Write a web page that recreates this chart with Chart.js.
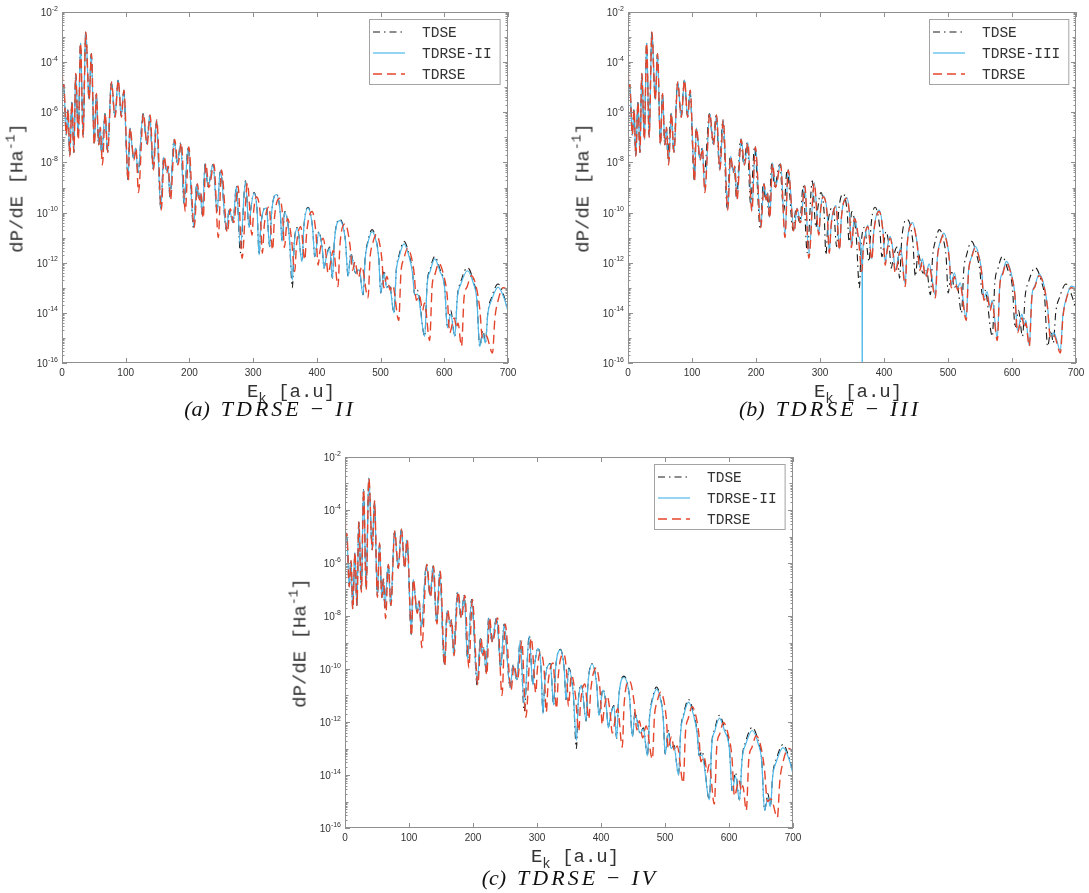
<!DOCTYPE html>
<html><head><meta charset="utf-8">
<script src="https://cdn.jsdelivr.net/npm/chart.js@4.4.0/dist/chart.umd.min.js"></script>
<style>
html,body{margin:0;padding:0;background:#fff;}
body{width:1089px;height:893px;position:relative;overflow:hidden;}
.panel{position:absolute;}
.panel canvas{display:block;}
.ylab,.xlab{position:absolute;font-family:"Liberation Mono","DejaVu Sans Mono",monospace;font-size:19px;color:#333;white-space:nowrap;line-height:1;}
.ylab{transform:translate(-50%,-50%) rotate(-90deg);}
.xlab{transform:translate(-50%,-50%);}
.ylab sup{font-size:13px;vertical-align:8px;line-height:0;}
.xlab sub{font-size:14px;vertical-align:-6px;line-height:0;}
.cap{position:absolute;transform:translate(-50%,-50%);font-family:"Liberation Serif","DejaVu Serif",serif;font-style:italic;font-size:22px;color:#111;white-space:nowrap;line-height:1;}
.cap .m{letter-spacing:3px;}
.cap .op{font-style:normal;padding:0 12px 0 9px;}
.cap .t{padding-right:11px;}
</style></head>
<body>
<div id="pa" class="panel"><canvas id="ca" width="530" height="400"></canvas></div>
<div id="pb" class="panel"><canvas id="cb" width="529" height="400"></canvas></div>
<div id="pc" class="panel"><canvas id="cc" width="540" height="453"></canvas></div>
<script>
// ---------- tick labels ----------
const xTickValues = [0, 100, 200, 300, 400, 500, 600, 700];
const xTickLabels = ['0', '100', '200', '300', '400', '500', '600', '700'];
const yTickExps = [-2, -4, -6, -8, -10, -12, -14, -16];

// ---------- series: [E (a.u.), log10(dP/dE)] ----------
const tdse = [[0,-5.3],[2.7,-4.88],[6.5,-6.9],[9.2,-5.9],[12,-7.7],[15.5,-5.6],[18.6,-7.6],[21.5,-4.45],[25.5,-7.0],[29,-3.23],[33,-6.9],[37.2,-2.8],[42.5,-5.5],[46,-3.66],[50.6,-7.25],[53.8,-5.25],[57.5,-7.3],[60,-6.6],[62,-7.7],[67.5,-6.05],[71.5,-7.6],[77.4,-4.79],[83,-6.18],[88,-4.72],[93,-6.15],[96.8,-5.12],[103.6,-8.7],[106.3,-6.62],[112.5,-7.84],[115.7,-7.44],[119.3,-8.43],[127.2,-6.05],[133,-7.24],[137.7,-6.11],[142.9,-8.24],[148.1,-6.31],[155,-9.83],[159.6,-7.77],[164,-8.3],[166,-8.15],[169.5,-9.4],[175.8,-7.08],[181,-8.04],[186.3,-7.22],[191.5,-9.63],[197.8,-7.38],[206.7,-10.65],[211.4,-8.85],[214.6,-9.43],[216.6,-9.2],[220.3,-10.1],[224.5,-8.05],[229.2,-8.97],[237,-8.07],[243.3,-9.95],[248.6,-8.3],[258,-10.7],[262.5,-9.85],[268.4,-10.4],[273.7,-8.94],[280,-11.6],[287.9,-8.73],[293.6,-10.6],[296.2,-9.9],[301.4,-9.2],[306.3,-9.95],[309.3,-11.69],[312.2,-10.5],[320.8,-9.79],[326,-11.36],[329,-10.0],[336.5,-9.26],[342.5,-10.0],[345.4,-11.16],[349.6,-9.96],[356.5,-10.9],[361.6,-13.0],[364.3,-11.3],[369.4,-10.59],[376.8,-11.96],[379.5,-10.6],[386.1,-9.79],[393.3,-10.6],[396.7,-11.76],[403,-10.76],[408.5,-11.45],[411.3,-12.22],[414.5,-11.8],[420.2,-11.38],[424.4,-12.62],[427.6,-11.1],[435.9,-10.27],[444.8,-11.1],[449,-12.55],[453.2,-11.62],[461,-12.42],[466.2,-12.22],[472.5,-13.28],[476,-11.75],[480,-11.15],[486.6,-10.68],[493.5,-11.15],[497.3,-11.85],[500.2,-13.21],[505.4,-12.3],[509.5,-13.0],[514,-12.88],[521.1,-14.0],[524.6,-12.3],[529,-11.7],[536.8,-11.15],[545,-11.7],[550,-12.35],[553.6,-13.28],[557.8,-13.1],[569.3,-14.94],[573,-12.85],[578,-12.25],[585,-11.75],[593,-12.25],[600.5,-12.95],[605,-14.6],[610.1,-13.9],[616.4,-14.94],[620.5,-13.35],[626,-12.75],[636.3,-12.2],[646,-12.75],[651,-13.4],[655.6,-15.34],[660.8,-14.7],[664.5,-15.2],[668.5,-13.95],[674,-13.4],[684.4,-12.85],[694,-13.35],[700,-13.9]];

const tdrse2 = [[0,-5.3],[2.7,-4.88],[6.5,-6.9],[9.2,-5.9],[12,-7.7],[15.5,-5.6],[18.6,-7.6],[21.5,-4.45],[25.5,-7.0],[29,-3.23],[33,-6.9],[37.2,-2.8],[42.5,-5.5],[46,-3.66],[50.6,-7.25],[53.8,-5.25],[57.5,-7.3],[60,-6.6],[62,-7.7],[67.5,-6.05],[71.5,-7.6],[77.4,-4.79],[83,-6.18],[88,-4.72],[93,-6.15],[96.8,-5.12],[103.6,-8.7],[106.3,-6.62],[112.5,-7.84],[115.7,-7.44],[119.3,-8.43],[127.2,-6.05],[133,-7.24],[137.7,-6.11],[142.9,-8.24],[148.1,-6.31],[155,-9.83],[159.6,-7.8],[164,-8.3],[166,-8.15],[169.5,-9.4],[175.8,-7.1],[181,-8.04],[186.3,-7.24],[191.5,-9.63],[197.8,-7.4],[206.7,-10.55],[211.4,-8.87],[214.6,-9.43],[216.6,-9.2],[220.3,-10.1],[224.5,-8.07],[229.2,-8.97],[237,-8.09],[243.3,-9.95],[248.6,-8.32],[258,-10.7],[262.5,-9.87],[268.4,-10.4],[273.7,-8.96],[280,-11.35],[287.9,-8.75],[293.6,-10.6],[296.2,-9.9],[301.4,-9.22],[306.3,-9.95],[309.3,-11.69],[312.2,-10.5],[320.8,-9.81],[326,-11.36],[329,-10.0],[336.5,-9.28],[342.5,-10.0],[345.4,-11.16],[349.6,-9.99],[356.5,-10.9],[361.6,-12.7],[364.3,-11.3],[369.4,-10.62],[376.8,-11.96],[379.5,-10.62],[386.1,-9.82],[393.3,-10.62],[396.7,-11.76],[403,-10.8],[408.5,-11.45],[411.3,-12.22],[414.5,-11.82],[420.2,-11.42],[424.4,-12.62],[427.6,-11.12],[435.9,-10.32],[444.8,-11.12],[449,-12.55],[453.2,-11.68],[461,-12.42],[466.2,-12.27],[472.5,-13.28],[476,-11.8],[480,-11.22],[486.6,-10.76],[493.5,-11.2],[497.3,-11.88],[500.2,-13.21],[505.4,-12.42],[509.5,-13.0],[514,-12.93],[521.1,-14.0],[524.6,-12.35],[529,-11.78],[536.8,-11.25],[545,-11.78],[550,-12.4],[553.6,-13.28],[557.8,-13.25],[569.3,-14.94],[573,-12.9],[578,-12.33],[585,-11.85],[593,-12.33],[600.5,-13.0],[605,-14.6],[610.1,-14.05],[616.4,-14.94],[620.5,-13.4],[626,-12.85],[636.3,-12.32],[646,-12.85],[651,-13.45],[655.6,-15.34],[660.8,-14.85],[664.5,-15.2],[668.5,-14.0],[674,-13.5],[684.4,-12.97],[694,-13.42],[700,-13.95]];

const tdrse = [[0,-3.8],[1.3,-5.0],[2.9,-4.9],[6.7,-6.9],[9.6,-5.9],[12.2,-7.75],[15.6,-5.6],[18.7,-7.6],[21.6,-4.45],[25.6,-7.1],[29.1,-3.23],[33.1,-7.0],[37.3,-2.8],[42.6,-5.5],[46.2,-3.66],[50.7,-7.3],[54,-5.25],[57.7,-7.3],[60.2,-6.6],[63.4,-8.1],[67.8,-6.05],[71.8,-7.6],[77.7,-4.79],[83.3,-6.2],[88.3,-4.72],[93.3,-6.2],[97.2,-5.12],[104,-8.75],[106.8,-6.62],[113,-7.9],[116.2,-7.44],[120,-9.2],[127.8,-6.05],[133.6,-7.3],[138.3,-6.11],[143.6,-8.3],[148.8,-6.31],[155.8,-9.9],[160.4,-7.77],[164.8,-8.4],[166.8,-8.15],[170.3,-9.5],[176.8,-7.08],[182,-8.1],[187.3,-7.22],[193.5,-9.96],[199,-7.38],[207.5,-10.6],[212.6,-8.85],[215.8,-9.5],[217.8,-9.2],[221.5,-10.23],[225.8,-8.05],[230.5,-9.0],[238.5,-8.07],[245.3,-11.0],[250.3,-8.3],[259.5,-10.8],[264,-9.85],[269.5,-10.4],[276.3,-8.94],[282.6,-11.82],[291,-8.83],[298.2,-10.9],[300.6,-10.0],[305,-9.37],[311.3,-10.1],[314.5,-11.62],[317.5,-10.5],[325,-9.77],[330.5,-11.5],[333.5,-10.2],[341.7,-9.43],[346.5,-10.2],[349,-11.4],[353.8,-10.23],[360,-11.0],[365.3,-12.35],[368,-11.3],[374.7,-10.56],[381,-11.89],[384,-10.8],[392.5,-9.96],[398.5,-10.8],[402,-12.1],[404.5,-11.6],[409.7,-11.02],[414.5,-11.7],[417.5,-12.42],[426,-11.5],[433.2,-12.95],[436.2,-11.3],[444.5,-10.45],[452,-11.3],[456,-12.3],[460,-11.95],[465,-12.6],[470.5,-12.15],[480.3,-13.4],[483.5,-11.8],[487.5,-11.25],[493.4,-10.87],[499,-11.3],[502.5,-12.0],[505,-13.0],[510,-12.55],[515,-13.1],[519,-12.9],[528.5,-14.3],[532,-12.4],[536.5,-11.85],[542.5,-11.42],[549,-11.85],[553,-12.5],[556,-13.5],[561,-13.3],[566,-13.9],[569,-13.6],[577,-15.1],[581,-12.9],[585.5,-12.45],[591.3,-12.02],[598.5,-12.45],[604.5,-13.3],[608.5,-14.8],[615.5,-14.2],[619.5,-14.6],[621.5,-14.4],[627,-15.34],[631,-13.4],[636,-12.95],[642.6,-12.52],[650,-12.95],[655.5,-13.8],[660,-15.0],[665.5,-14.9],[675.6,-15.6],[679.5,-14.2],[684.5,-13.5],[692.5,-13.0],[700,-13.08]];

const tdrse3 = [[0,-3.8],[1.3,-5.0],[2.9,-4.9],[6.7,-6.9],[9.6,-5.9],[12.2,-7.75],[15.6,-5.6],[18.7,-7.6],[21.6,-4.45],[25.6,-7.1],[29.1,-3.23],[33.1,-7.0],[37.3,-2.8],[42.6,-5.5],[46.2,-3.66],[50.7,-7.3],[54,-5.25],[57.7,-7.3],[60.2,-6.6],[63.4,-8.0],[67.8,-6.05],[71.8,-7.6],[77.7,-4.79],[83.3,-6.2],[88.3,-4.72],[93.3,-6.2],[97.2,-5.12],[104,-8.7],[106.8,-6.62],[113,-7.9],[116.2,-7.44],[120,-9.1],[127.8,-6.05],[133.6,-7.3],[138.3,-6.11],[143.6,-8.3],[148.8,-6.31],[155.8,-9.85],[160.4,-7.75],[164.8,-8.4],[166.8,-8.15],[170.3,-9.45],[176.8,-7.06],[182,-8.1],[187.3,-7.2],[193.5,-9.9],[199,-7.36],[207.5,-10.55],[212.6,-8.83],[215.8,-9.5],[217.8,-9.2],[221.5,-10.2],[225.8,-8.02],[230.5,-9.0],[238.5,-8.04],[245.3,-10.9],[250.3,-8.27],[259.5,-10.7],[264,-9.82],[269.5,-10.4],[276.3,-8.9],[282.6,-11.7],[291,-8.8],[298.2,-10.85],[300.6,-9.95],[305,-9.33],[311.3,-10.05],[314.5,-11.6],[317.5,-10.45],[325,-9.72],[330.5,-11.45],[333.5,-10.15],[341.7,-9.4],[346.5,-10.15],[349,-11.35],[353.8,-10.18],[360,-10.95],[365.7,-12.3],[366,-18],[366.3,-12.3],[368,-11.25],[374.7,-10.5],[381,-11.85],[384,-10.75],[392.5,-9.9],[398.5,-10.75],[402,-12.0],[404.5,-11.5],[409.7,-10.95],[414.5,-11.6],[417.5,-12.3],[426,-11.4],[433.2,-12.85],[436.2,-11.25],[444.5,-10.4],[452,-11.25],[456,-12.2],[460,-11.85],[465,-12.5],[470.5,-12.05],[480.3,-13.3],[483.5,-11.75],[487.5,-11.2],[493.4,-10.82],[499,-11.25],[502.5,-11.95],[505,-12.9],[510,-12.4],[515,-13.0],[519,-12.8],[528.5,-14.2],[532,-12.35],[536.5,-11.8],[542.5,-11.35],[549,-11.8],[553,-12.45],[556,-13.4],[561,-13.15],[566,-13.8],[569,-13.5],[577,-15.0],[581,-12.85],[585.5,-12.4],[591.3,-11.95],[598.5,-12.4],[604.5,-13.25],[608.5,-14.7],[615.5,-14.05],[619.5,-14.5],[621.5,-14.3],[627,-15.3],[631,-13.35],[636,-12.9],[642.6,-12.45],[650,-12.9],[655.5,-13.75],[660,-14.9],[665.5,-14.8],[675.6,-15.5],[679.5,-14.1],[684.5,-13.45],[692.5,-12.93],[700,-13.0]];

// ---------- styles ----------
const STYLE = {
  TDSE:  {color:'#1a1a1a', dash:[7,4,1.5,4], width:1.1, order:2},
  MID:   {color:'#4DB8EA', dash:[], width:1.2, order:1},
  TDRSE: {color:'#E5452B', dash:[9,5], width:1.4, order:0}
};

const panels = [
  {el:'pa', cv:'ca', left:0, top:0, w:530, h:400, pad:{left:62, top:12, right:22, bottom:37},
   names:['TDSE','TDRSE-II','TDRSE'], data:[tdse, tdrse2, tdrse],
   cap:{x:270, y:409, tag:'(a)', sub:'II'}},
  {el:'pb', cv:'cb', left:560, top:0, w:529, h:400, pad:{left:68, top:12, right:13, bottom:37},
   names:['TDSE','TDRSE-III','TDRSE'], data:[tdse, tdrse3, tdrse],
   cap:{x:830, y:409, tag:'(b)', sub:'III'}},
  {el:'pc', cv:'cc', left:280, top:440, w:540, h:453, pad:{left:65, top:17, right:27, bottom:65},
   names:['TDSE','TDRSE-II','TDRSE'], data:[tdse, tdrse2, tdrse],
   cap:{x:570, y:878, tag:'(c)', sub:'IV'}}
];

const AXIS = '#8f8f8f', TXT = '#333';

function seg(ctx, x1, y1, x2, y2){ ctx.beginPath(); ctx.moveTo(x1,y1); ctx.lineTo(x2,y2); ctx.stroke(); }

const matlabAxes = {
  id: 'matlabAxes',
  afterDraw(chart, args, opts) {
    const ctx = chart.ctx, a = chart.chartArea, xs = chart.scales.x, ys = chart.scales.y;
    ctx.save();
    ctx.setLineDash([]);
    ctx.strokeStyle = AXIS; ctx.lineWidth = 1;
    ctx.strokeRect(a.left + 0.5, a.top + 0.5, a.right - a.left - 1, a.bottom - a.top - 1);
    xTickValues.forEach(v => {
      const px = Math.round(xs.getPixelForValue(v)) + 0.5;
      seg(ctx, px, a.bottom, px, a.bottom - 5);
      seg(ctx, px, a.top, px, a.top + 5);
    });
    for (let d = -16; d <= -2; d++) {
      const py = Math.round(ys.getPixelForValue(Math.pow(10, d))) + 0.5;
      const L = (d % 2 === 0) ? 5 : 3.5;
      seg(ctx, a.left, py, a.left + L, py);
      seg(ctx, a.right, py, a.right - L, py);
      if (d < -2) {
        for (let k = 2; k <= 9; k++) {
          const pm = Math.round(ys.getPixelForValue(k * Math.pow(10, d))) + 0.5;
          seg(ctx, a.left, pm, a.left + 2.5, pm);
          seg(ctx, a.right, pm, a.right - 2.5, pm);
        }
      }
    }
    ctx.fillStyle = TXT;
    ctx.font = '10px "Liberation Sans", Arial, sans-serif';
    ctx.textAlign = 'center'; ctx.textBaseline = 'middle';
    xTickValues.forEach((v, i) => ctx.fillText(xTickLabels[i], xs.getPixelForValue(v), a.bottom + 10.5));
    yTickExps.forEach(e => {
      const py = ys.getPixelForValue(Math.pow(10, e));
      const right = a.left - 4;
      ctx.font = '7px "Liberation Sans", Arial, sans-serif';
      ctx.textAlign = 'right'; ctx.textBaseline = 'alphabetic';
      const ex = String(e);
      const w = ctx.measureText(ex).width;
      ctx.fillText(ex, right, py - 1.5);
      ctx.font = '10px "Liberation Sans", Arial, sans-serif';
      ctx.fillText('10', right - w, py + 4);
    });
    const names = opts.names;
    ctx.font = '14.5px "Liberation Mono", "DejaVu Sans Mono", monospace';
    let tw = 0; names.forEach(n => tw = Math.max(tw, ctx.measureText(n).width));
    const bw = 53 + tw + 8, bh = 65;
    const bx = Math.round(a.right - 8 - bw), by = a.top + 7;
    ctx.fillStyle = '#fff';
    ctx.fillRect(bx, by, bw, bh);
    ctx.strokeStyle = '#a3a3a3'; ctx.lineWidth = 1;
    ctx.strokeRect(bx + 0.5, by + 0.5, bw, bh);
    const rows = [13, 34, 55];
    const st = [STYLE.TDSE, STYLE.MID, STYLE.TDRSE];
    names.forEach((n, i) => {
      const yy = by + rows[i];
      ctx.strokeStyle = st[i].color; ctx.lineWidth = st[i].width;
      ctx.setLineDash(st[i].dash);
      seg(ctx, bx + 4, yy, bx + 36, yy);
      ctx.setLineDash([]);
      ctx.fillStyle = TXT; ctx.textAlign = 'left'; ctx.textBaseline = 'middle';
      ctx.fillText(n, bx + 53, yy + 1);
    });
    ctx.restore();
  }
};

function makeDataset(name, pts, st) {
  return {
    label: name,
    data: pts.map(p => ({x: p[0], y: Math.pow(10, p[1])})),
    borderColor: st.color, borderWidth: st.width, borderDash: st.dash,
    pointRadius: 0, fill: false, cubicInterpolationMode: 'monotone',
    order: st.order, clip: 0
  };
}

panels.forEach(p => {
  const box = document.getElementById(p.el);
  box.style.left = p.left + 'px'; box.style.top = p.top + 'px';
  box.style.width = p.w + 'px'; box.style.height = p.h + 'px';
  const sts = [STYLE.TDSE, STYLE.MID, STYLE.TDRSE];
  const chart = new Chart(document.getElementById(p.cv), {
    type: 'line',
    data: { datasets: p.data.map((d, i) => makeDataset(p.names[i], d, sts[i])) },
    options: {
      responsive: false, animation: false, events: [],
      layout: { padding: p.pad },
      scales: {
        x: { type: 'linear', min: 0, max: 700, display: false },
        y: { type: 'logarithmic', min: 1e-16, max: 1e-2, display: false }
      },
      plugins: { legend: { display: false }, tooltip: { enabled: false }, matlabAxes: { names: p.names } }
    },
    plugins: [matlabAxes]
  });
  const a = chart.chartArea;
  const cx = p.left + (a.left + a.right) / 2, cy = p.top + (a.top + a.bottom) / 2;
  const yl = document.createElement('div');
  yl.className = 'ylab';
  yl.innerHTML = 'dP/dE [Ha<sup>-1</sup>]';
  yl.style.left = (p.left + a.left - 44) + 'px'; yl.style.top = cy + 'px';
  document.body.appendChild(yl);
  const xl = document.createElement('div');
  xl.className = 'xlab';
  xl.innerHTML = 'E<sub>k</sub> [a.u]';
  xl.style.left = (cx + 6) + 'px'; xl.style.top = (p.top + a.bottom + 29) + 'px';
  document.body.appendChild(xl);
  const cap = document.createElement('div');
  cap.className = 'cap';
  cap.innerHTML = '<span class="t">' + p.cap.tag + '</span><span class="m">TDRSE</span><span class="op">−</span><span class="m">' + p.cap.sub + '</span>';
  cap.style.left = p.cap.x + 'px'; cap.style.top = p.cap.y + 'px';
  document.body.appendChild(cap);
});
</script>
</body></html>
